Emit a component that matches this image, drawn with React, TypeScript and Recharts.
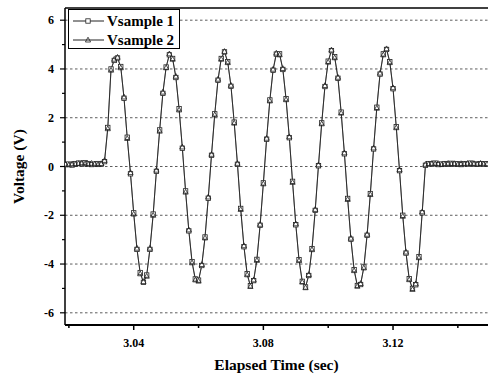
import { LineChart, Line, XAxis, YAxis, ReferenceLine, Legend } from 'recharts';

// sampled every 1 ms starting at 3.019 s
const startTime = 3.019;
const step = 0.001;

const vsample1 = [
  0.08, 0.10, 0.06, 0.12, 0.14, 0.10, 0.16, 0.12, 0.08, 0.10, 0.12, 0.10,
  0.20, 1.60, 4.00, 4.35, 4.45, 4.10, 2.80, 1.20, -0.30, -1.90, -3.40, -4.35, -4.75, -4.45, -3.40, -1.95, -0.20,
  1.50, 3.00, 4.08, 4.58, 4.43, 3.65, 2.37, 0.75, -1.00, -2.64, -3.90, -4.61, -4.66, -4.06, -2.89, -1.30,
  0.46, 2.16, 3.54, 4.43, 4.70, 4.30, 3.29, 1.82, 0.09, -1.72, -3.29, -4.40, -4.89, -4.68, -3.81, -2.41, -0.67,
  1.12, 2.73, 3.95, 4.61, 4.62, 3.98, 2.78, 1.18, -0.61, -2.39, -3.82, -4.71, -4.94, -4.47, -3.37, -1.80,
  0.03, 1.79, 3.28, 4.32, 4.75, 4.50, 3.62, 2.23, 0.52, -1.31, -2.98, -4.23, -4.88, -4.84, -4.12, -2.82, -1.11,
  0.72, 2.43, 3.79, 4.62, 4.80, 4.30, 3.19, 1.63, -0.17, -2.00, -3.55, -4.60, -5.00, -4.85, -3.70, -1.90, 0.05,
  0.12, 0.10, 0.14, 0.08, 0.10, 0.12, 0.09, 0.13, 0.10, 0.11, 0.08, 0.12, 0.10, 0.14, 0.10, 0.09, 0.12, 0.10, 0.11,
];

const vsample2 = [
  0.10, 0.07, 0.11, 0.09, 0.12, 0.15, 0.11, 0.09, 0.13, 0.11, 0.08, 0.12,
  0.25, 1.55, 3.95, 4.40, 4.48, 4.05, 2.85, 1.15, -0.25, -1.95, -3.35, -4.40, -4.72, -4.50, -3.35, -2.00, -0.15,
  1.45, 3.05, 4.05, 4.62, 4.40, 3.70, 2.32, 0.80, -1.05, -2.60, -3.95, -4.65, -4.70, -4.02, -2.93, -1.25,
  0.50, 2.12, 3.58, 4.40, 4.72, 4.26, 3.33, 1.78, 0.13, -1.76, -3.25, -4.44, -4.92, -4.65, -3.85, -2.37, -0.71,
  1.16, 2.69, 3.99, 4.65, 4.58, 4.02, 2.74, 1.22, -0.65, -2.35, -3.86, -4.74, -4.97, -4.43, -3.41, -1.76,
  0.07, 1.75, 3.32, 4.28, 4.78, 4.46, 3.66, 2.19, 0.56, -1.35, -2.94, -4.27, -4.91, -4.80, -4.16, -2.78, -1.15,
  0.76, 2.39, 3.83, 4.58, 4.83, 4.26, 3.23, 1.59, -0.13, -2.04, -3.51, -4.64, -5.04, -4.81, -3.74, -1.86, 0.09,
  0.10, 0.13, 0.11, 0.12, 0.08, 0.10, 0.13, 0.10, 0.12, 0.09, 0.12, 0.10, 0.13, 0.11, 0.12, 0.10, 0.13, 0.11, 0.10,
];

const xTicks = [3.02, 3.04, 3.06, 3.08, 3.10, 3.12, 3.14];
const xLabeled = [3.04, 3.08, 3.12];
const yTicks = [-6, -5, -4, -3, -2, -1, 0, 1, 2, 3, 4, 5, 6];
const gridValues = [-6, -4, -2, 0, 2, 4, 6];

const data = vsample1.map((v, i) => ({
  t: Math.round((startTime + i * step) * 1000) / 1000,
  v1: v,
  v2: vsample2[i],
}));

const FONT = "'Liberation Serif', 'Times New Roman', serif";
const INK = '#222';

const SquareDot = (props: any) => {
  const { cx, cy } = props;
  if (cx == null || cy == null) return null;
  return <rect x={cx - 2.2} y={cy - 2.2} width={4.4} height={4.4} fill="#fff" stroke={INK} strokeWidth={0.8} />;
};

const TriangleDot = (props: any) => {
  const { cx, cy } = props;
  if (cx == null || cy == null) return null;
  return (
    <polygon
      points={`${cx},${cy - 2.8} ${cx - 2.6},${cy + 2} ${cx + 2.6},${cy + 2}`}
      fill="none"
      stroke={INK}
      strokeWidth={0.8}
    />
  );
};

const XTick = (props: any) => {
  const { x, y, payload } = props;
  const major = xLabeled.some((v) => Math.abs(v - payload.value) < 1e-6);
  return (
    <g>
      <line x1={x} x2={x} y1={y} y2={y + (major ? 5 : 3)} stroke="#000" strokeWidth={1.5} />
      {major && (
        <text x={x} y={y + 22} textAnchor="middle" fontSize={12} fontWeight="bold" style={{ fontFamily: FONT }} fill="#000">
          {payload.value.toFixed(2)}
        </text>
      )}
    </g>
  );
};

const YTick = (props: any) => {
  const { x, y, payload } = props;
  const major = payload.value % 2 === 0;
  return (
    <g>
      <line x1={x} x2={x - (major ? 5 : 3)} y1={y} y2={y} stroke="#000" strokeWidth={1.2} />
      {major && (
        <text x={x - 11} y={y + 4} textAnchor="end" fontSize={12} fontWeight="bold" style={{ fontFamily: FONT }} fill="#000">
          {payload.value}
        </text>
      )}
    </g>
  );
};

const LegendBox = () => (
  <div style={{ border: '1px solid #000', background: '#fff', width: 110, height: 38 }}>
    <svg width={110} height={38} style={{ display: 'block' }}>
      <line x1={4} x2={35} y1={11} y2={11} stroke={INK} strokeWidth={1} />
      <SquareDot cx={19} cy={11} />
      <text x={38} y={16} fontSize={15} fontWeight="bold" style={{ fontFamily: FONT }} fill="#000">Vsample 1</text>
      <line x1={4} x2={35} y1={30} y2={30} stroke={INK} strokeWidth={1} />
      <TriangleDot cx={19} cy={30} />
      <text x={38} y={35} fontSize={15} fontWeight="bold" style={{ fontFamily: FONT }} fill="#000">Vsample 2</text>
    </svg>
  </div>
);

export default function App() {
  return (
    <div style={{ position: 'absolute', left: 0, top: 0, background: '#fff', fontFamily: FONT }}>
      <LineChart width={488} height={378} data={data} margin={{ top: 8, right: 0, bottom: 0, left: 0 }}>
        {gridValues.map((g) => (
          <ReferenceLine key={g} y={g} stroke="#333" strokeWidth={0.8} strokeDasharray="2.5 2.5" />
        ))}
        <ReferenceLine y={6.5} stroke="#000" strokeWidth={1.5} />
        <XAxis
          dataKey="t"
          type="number"
          domain={[3.0188, 3.1493]}
          allowDataOverflow
          ticks={xTicks}
          tick={<XTick />}
          tickLine={false}
          tickSize={0}
          tickMargin={0}
          height={53}
          axisLine={{ stroke: '#000', strokeWidth: 2 }}
          label={{ value: 'Elapsed Time (sec)', position: 'insideBottom', offset: 8, fontSize: 15.5, fontWeight: 'bold', fill: '#000', style: { fontFamily: FONT } }}
        />
        <YAxis
          type="number"
          domain={[-6.5, 6.5]}
          ticks={yTicks}
          tick={<YTick />}
          tickLine={false}
          tickSize={0}
          tickMargin={0}
          width={65}
          axisLine={{ stroke: '#000', strokeWidth: 1.5 }}
          label={{ value: 'Voltage (V)', angle: -90, position: 'insideLeft', offset: 18, fontSize: 15.5, fontWeight: 'bold', fill: '#000', style: { textAnchor: 'middle', fontFamily: FONT } }}
        />
        <Legend
          layout="vertical"
          align="center"
          verticalAlign="middle"
          content={<LegendBox />}
          wrapperStyle={{ position: 'absolute', top: 9, left: 68, width: 'auto' }}
        />
        <Line dataKey="v1" name="Vsample 1" stroke={INK} strokeWidth={0.9} dot={<SquareDot />} activeDot={false} isAnimationActive={false} />
        <Line dataKey="v2" name="Vsample 2" stroke={INK} strokeWidth={0.6} dot={<TriangleDot />} activeDot={false} isAnimationActive={false} />
      </LineChart>
    </div>
  );
}
